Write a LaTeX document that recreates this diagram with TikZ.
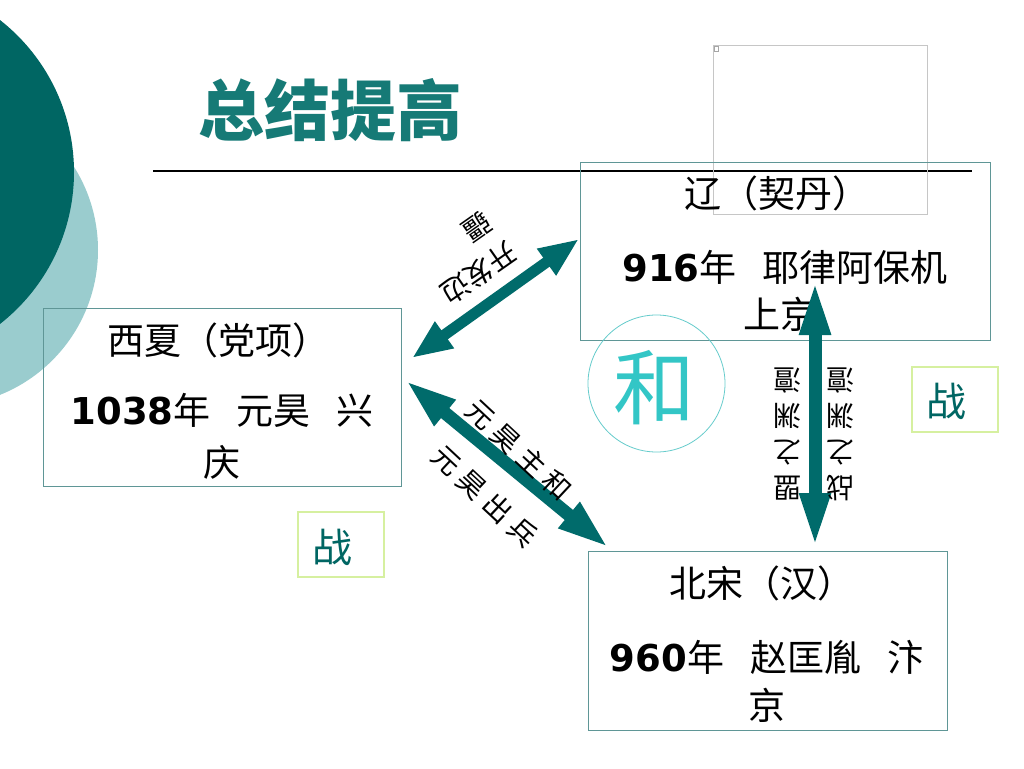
\documentclass[tikz,border=0pt]{standalone}
\usepackage{fontspec}
\setmainfont{Noto Sans CJK SC}
\newfontfamily\numfont{DejaVu Sans}
\usetikzlibrary{arrows.meta}
\definecolor{darkteal}{RGB}{0,102,99}
\definecolor{lightteal}{RGB}{154,204,206}
\definecolor{arrowteal}{RGB}{0,107,107}
\definecolor{titleteal}{RGB}{22,122,118}
\definecolor{boxline}{RGB}{95,150,150}
\definecolor{zhanline}{RGB}{214,240,160}
\definecolor{hecyan}{RGB}{51,198,198}
\definecolor{hering}{RGB}{102,204,204}
\tikzset{
  statebox/.style={draw=boxline, line width=1pt, inner sep=0pt},
  zhanbox/.style={draw=zhanline, line width=1.5pt, inner sep=0pt, minimum width=86pt, minimum height=65pt},
  btext/.style={font=\fontsize{37}{40}\selectfont, inner sep=0pt, anchor=center},
  zhantext/.style={font=\fontsize{40}{44}\selectfont, text=darkteal, inner sep=0pt},
  lbl/.style={font=\fontsize{28}{36}\selectfont, inner sep=0pt, align=center},
  dblarrow/.style={draw=arrowteal, line width=#1},
}
\begin{document}
\begin{tikzpicture}[x={(1pt,0)}, y={(0,-1pt)}]
\clip (0,0) rectangle (1024,768);
\useasboundingbox (0,0) rectangle (1024,768);
\fill[white] (0,0) rectangle (1024,768);
% decorative circles
\fill[lightteal] (-58,250) circle [radius=156pt];
\fill[darkteal] (-119,172) circle [radius=193pt];
% title and rule
\node[font=\fontsize{66}{70}\selectfont\bfseries, text=titleteal, inner sep=0pt] (title) at (330,110) {总结提高};
\coordinate (ruleL) at (153,171);
\coordinate (ruleR) at (972,171);
\draw[black, line width=1.2pt] (ruleL) -- (ruleR);
% broken picture placeholder
\node[draw=gray!45, line width=0.8pt, minimum width=214pt, minimum height=169pt, inner sep=0pt] (ph) at (820,129.5) {};
\node[draw=gray!70, line width=0.5pt, minimum width=4pt, minimum height=5pt, inner sep=0pt] (phicon) at (716.5,48.5) {};
% state boxes
\node[statebox, minimum width=410pt, minimum height=178pt] (liao) at (785,251) {};
\node[statebox, minimum width=358pt, minimum height=178pt] (xixia) at (222,397) {};
\node[statebox, minimum width=359pt, minimum height=179pt] (song) at (767.5,640.5) {};
\node[btext] (liao1) at (777,193) {辽（契丹）};
\node[btext] (liao2) at (785,267) {{\numfont\bfseries 916}年\hspace{0.7em}耶律阿保机};
\node[btext] (liao3) at (780,314) {上京};
\node[btext] (xixia1) at (218,340) {西夏（党项）};
\node[btext] (xixia2) at (222,410) {{\numfont\bfseries 1038}年\hspace{0.7em}元昊\hspace{0.7em}兴};
\node[btext] (xixia3) at (222,462) {庆};
\node[btext] (song1) at (762,583) {北宋（汉）};
\node[btext] (song2) at (767,657) {{\numfont\bfseries 960}年\hspace{0.7em}赵匡胤\hspace{0.7em}汴};
\node[btext] (song3) at (767,705) {京};
% zhan boxes
\node[zhanbox] (zhanR) at (955,399.5) {};
\node[zhantext] (zhanRt) at (946,401) {战};
\node[zhanbox] (zhanL) at (341,544.5) {};
\node[zhantext] (zhanLt) at (332,547) {战};
% he circle
\node[draw=hering, line width=0.8pt, circle, minimum size=137pt, inner sep=0pt] (hering) at (656.5,383.5) {};
\node[font=\fontsize{82}{86}\selectfont, text=hecyan, inner sep=0pt] (he) at (654,388) {和};
% arrows
\coordinate (a1s) at (412,358);
\coordinate (a1e) at (579,239);
\coordinate (a2s) at (405,380);
\coordinate (a2e) at (609,548);
\coordinate (a3s) at (815,280);
\coordinate (a3e) at (815,548);
\draw[dblarrow=11pt, {Triangle[length=40pt,width=30pt]}-{Triangle[length=40pt,width=30pt]}] (a1s) -- (a1e);
\draw[dblarrow=13pt, {Triangle[length=52pt,width=30pt]}-{Triangle[length=52pt,width=30pt]}] (a2s) -- (a2e);
\draw[dblarrow=13pt, {Triangle[length=55pt,width=28pt]}-{Triangle[length=55pt,width=28pt]}] (a3s) -- (a3e);
% arrow labels
\node[lbl, rotate=215] (l1a) at (479,273) {开发边};
\node[lbl, rotate=215] (l1b) at (477,227) {疆};
\node[lbl, rotate=-43] (l2a) at (519,450) {元\hspace{7pt}昊\hspace{7pt}主\hspace{7pt}和};
\node[lbl, rotate=-43] (l2b) at (485,496) {元\hspace{7pt}昊\hspace{7pt}出\hspace{7pt}兵};
\node[lbl, rotate=180] (l3a) at (787,434) {盟\\之\\渊\\澶};
\node[lbl, rotate=180] (l3b) at (840,434) {战\\之\\渊\\澶};
\end{tikzpicture}
\end{document}
